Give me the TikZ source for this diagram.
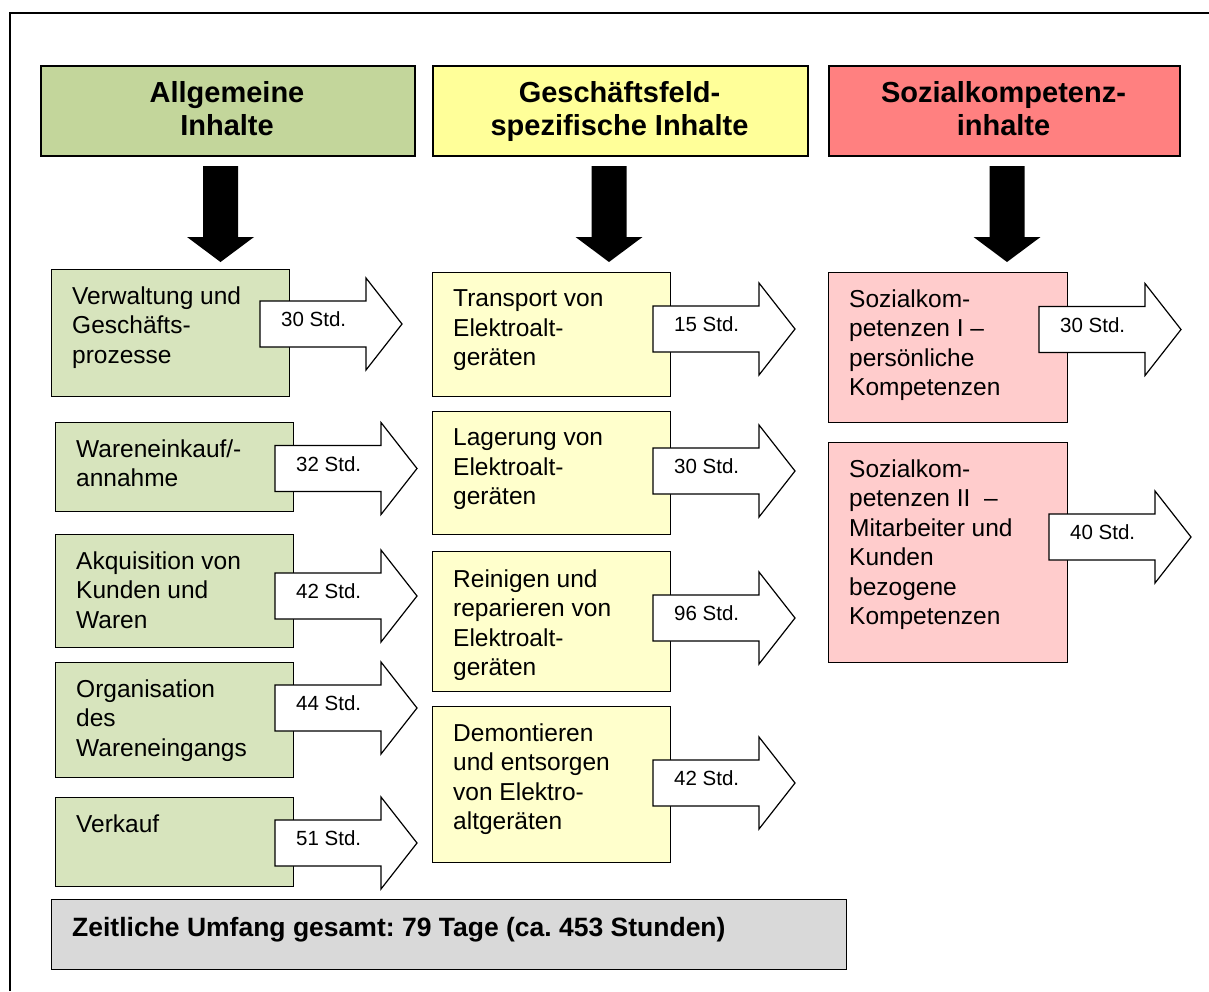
\documentclass[tikz,border=0pt]{standalone}
\usepackage{fontspec}
\setmainfont{Liberation Sans}
\usetikzlibrary{positioning}
\frenchspacing

\definecolor{kopfgruen}{HTML}{C3D69B}
\definecolor{feldgruen}{HTML}{D7E4BD}
\definecolor{kopfgelb}{HTML}{FFFF99}
\definecolor{feldgelb}{HTML}{FFFFCC}
\definecolor{kopfrot}{HTML}{FF8080}
\definecolor{feldrot}{HTML}{FFCCCC}
\definecolor{summegrau}{HTML}{D9D9D9}

\tikzset{
  kopf/.style={draw, line width=1.8pt, anchor=north west, inner sep=0pt,
    minimum height=90pt},
  feld/.style={draw, line width=1.2pt, anchor=north west, inner sep=0pt},
  kopftext/.style={anchor=north, inner sep=0pt, align=center,
    font=\bfseries\fontsize{29}{33}\selectfont},
  feldtext/.style={anchor=north west, inner sep=0pt, align=left,
    font=\fontsize{24.5}{29.5}\selectfont},
  stdtext/.style={anchor=base west, inner sep=0pt,
    font=\fontsize{20.5}{24}\selectfont},
  pfeil/.style={draw, line width=1.2pt, fill=white, line join=miter},
  blockpfeil/.style={fill=black}
}

% Pfeil mit Stundenangabe: Name, linke Kante, Mitte y, Text
\newcommand\stdpfeil[4]{%
  \draw[pfeil] (#2,#3-23) -- ++(106,0) -- ++(0,-23) -- (#2+142,#3)
    -- (#2+106,#3+46) -- ++(0,-23) -- (#2,#3+23) -- cycle;
  \node[stdtext] (#1) at (#2+21,#3+2.5) {#4};}

% schwarzer Pfeil unter den Kopfkaesten
\newcommand\kopfpfeil[1]{%
  \fill[blockpfeil] (#1-17.5,166) -- (#1+17.5,166) -- (#1+17.5,237)
    -- (#1+33.5,237) -- (#1,262) -- (#1-33.5,237) -- (#1-17.5,237) -- cycle;}

\begin{document}
\begin{tikzpicture}[x=1pt, y=-1pt]
\useasboundingbox (0,0) rectangle (1209,991);
\draw[line width=2pt] (10,991) -- (10,13) -- (1209,13);

% Kopfkaesten
\node[kopf, fill=kopfgruen, minimum width=374pt] (kopfA) at (40,65) {};
\node[kopf, fill=kopfgelb, minimum width=375pt] (kopfB) at (432,65) {};
\node[kopf, fill=kopfrot, minimum width=351pt] (kopfC) at (828,65) {};
\node[kopftext] (kopfAtext) at (227,81) {Allgemeine\\Inhalte};
\node[kopftext] (kopfBtext) at (619.5,81) {Geschäftsfeld-\\spezifische Inhalte};
\node[kopftext] (kopfCtext) at (1003.5,81) {Sozialkompetenz-\\inhalte};

\kopfpfeil{220.5}
\kopfpfeil{609}
\kopfpfeil{1007}

% Allgemeine Inhalte
\node[feld, fill=feldgruen, minimum width=238pt, minimum height=127pt] (feldA1) at (51,269) {};
\node[feld, fill=feldgruen, minimum width=238pt, minimum height=89pt] (feldA2) at (55,422) {};
\node[feld, fill=feldgruen, minimum width=238pt, minimum height=113pt] (feldA3) at (55,534) {};
\node[feld, fill=feldgruen, minimum width=238pt, minimum height=115pt] (feldA4) at (55,662) {};
\node[feld, fill=feldgruen, minimum width=238pt, minimum height=89pt] (feldA5) at (55,797) {};
\node[feldtext, below right=17.5pt and 21pt of feldA1.north west] (textA1) {Verwaltung und\\Geschäfts-\\prozesse};
\node[feldtext, below right=17.5pt and 21pt of feldA2.north west] (textA2) {Wareneinkauf/-\\annahme};
\node[feldtext, below right=17.5pt and 21pt of feldA3.north west] (textA3) {Akquisition von\\Kunden und\\Waren};
\node[feldtext, below right=17.5pt and 21pt of feldA4.north west] (textA4) {Organisation\\des\\Wareneingangs};
\node[feldtext, below right=17.5pt and 21pt of feldA5.north west] (textA5) {Verkauf};

% Geschaeftsfeldspezifische Inhalte
\node[feld, fill=feldgelb, minimum width=238pt, minimum height=124pt] (feldB1) at (432,272) {};
\node[feld, fill=feldgelb, minimum width=238pt, minimum height=123pt] (feldB2) at (432,411) {};
\node[feld, fill=feldgelb, minimum width=238pt, minimum height=140pt] (feldB3) at (432,551) {};
\node[feld, fill=feldgelb, minimum width=238pt, minimum height=156pt] (feldB4) at (432,706) {};
\node[feldtext, below right=17.5pt and 21pt of feldB1.north west] (textB1) {Transport von\\Elektroalt-\\geräten};
\node[feldtext, below right=17.5pt and 21pt of feldB2.north west] (textB2) {Lagerung von\\Elektroalt-\\geräten};
\begin{scope}
  \clip (432,551) rectangle (670,679);
  \node[feldtext, below right=18.5pt and 21pt of feldB3.north west] (textB3) {Reinigen und\\reparieren von\\Elektroalt-\\geräten};
\end{scope}
\node[feldtext, below right=17.5pt and 21pt of feldB4.north west] (textB4) {Demontieren\\und entsorgen\\von Elektro-\\altgeräten};

% Sozialkompetenzinhalte
\node[feld, fill=feldrot, minimum width=239pt, minimum height=150pt] (feldC1) at (828,272) {};
\node[feld, fill=feldrot, minimum width=239pt, minimum height=220pt] (feldC2) at (828,442) {};
\node[feldtext, below right=17.5pt and 21pt of feldC1.north west] (textC1) {Sozialkom-\\petenzen I –\\persönliche\\Kompetenzen};
\node[feldtext, below right=17.5pt and 21pt of feldC2.north west] (textC2) {Sozialkom-\\petenzen II\ \ –\\Mitarbeiter und\\Kunden\\bezogene\\Kompetenzen};

% Stunden
\stdpfeil{stdA1}{260}{324}{30 Std.}
\stdpfeil{stdA2}{275}{468.5}{32 Std.}
\stdpfeil{stdA3}{275}{596}{42 Std.}
\stdpfeil{stdA4}{275}{708}{44 Std.}
\stdpfeil{stdA5}{275}{843}{51 Std.}
\stdpfeil{stdB1}{653}{329}{15 Std.}
\stdpfeil{stdB2}{653}{471}{30 Std.}
\stdpfeil{stdB3}{653}{618}{96 Std.}
\stdpfeil{stdB4}{653}{783}{42 Std.}
\stdpfeil{stdC1}{1039}{329.5}{30 Std.}
\stdpfeil{stdC2}{1049}{537}{40 Std.}

% Summe
\node[feld, fill=summegrau, minimum width=795pt, minimum height=70pt] (summe) at (51,899) {};
\node[anchor=base west, inner sep=0pt, font=\bfseries\fontsize{26.5}{30}\selectfont] (summetext) at (72,936.7) {Zeitliche Umfang gesamt: 79 Tage (ca. 453 Stunden)};
\end{tikzpicture}
\end{document}
